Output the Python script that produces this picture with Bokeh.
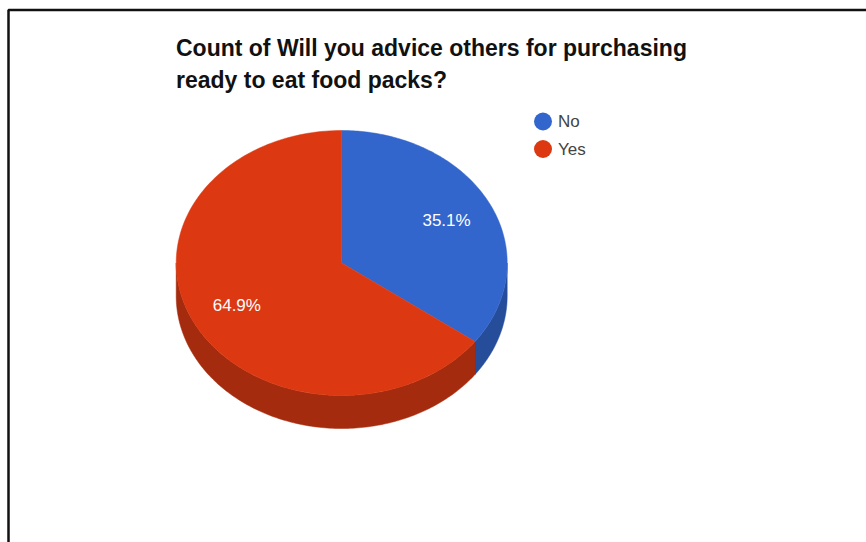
import numpy as np
from bokeh.core.properties import value
from bokeh.embed import file_html
from bokeh.models import Range1d
from bokeh.plotting import figure
from bokeh.resources import INLINE

# Survey answers, in percent of responses
categories = ["No", "Yes"]
shares = [35.1, 64.9]
labels = ["35.1%", "64.9%"]
title_lines = ["Count of Will you advice others for purchasing", "ready to eat food packs?"]

top_colors = ["#3366cc", "#dc3912"]
side_colors = ["#264d99", "#a52b0e"]

W, H = 866, 542
CX, CY, RX, RY, DEPTH = 341.2, 262.5, 165.5, 132.5, 33

p = figure(width=W, height=H, output_backend="svg", toolbar_location=None,
           x_range=Range1d(0, W), y_range=Range1d(H, 0), min_border=0,
           outline_line_color=None, background_fill_color="white")
p.axis.visible = False
p.grid.visible = False


def rim(a0, a1, n=160):
    # Points on the pie's elliptical rim; angles run clockwise from twelve o'clock
    t = np.linspace(a0, a1, n)
    return CX + RX * np.sin(t), CY - RY * np.cos(t)


edges = np.concatenate([[0.0], np.cumsum(shares)]) / sum(shares) * 2 * np.pi

# Extruded side: only the front half of the rim (pi/2 to 3*pi/2) shows
for a0, a1, color in zip(edges[:-1], edges[1:], side_colors):
    lo, hi = max(a0, np.pi / 2), min(a1, 3 * np.pi / 2)
    if lo < hi:
        x, y = rim(lo, hi)
        p.patch(np.concatenate([x, x[::-1]]), np.concatenate([y, y[::-1] + DEPTH]),
                fill_color=color, line_color=color, line_width=0.5)

# Top face of the pie
for a0, a1, color in zip(edges[:-1], edges[1:], top_colors):
    x, y = rim(a0, a1)
    p.patch(np.concatenate([[CX], x]), np.concatenate([[CY], y]),
            fill_color=color, line_color=color, line_width=0.5)

# Percentage labels inside each slice
mids = (edges[:-1] + edges[1:]) / 2
p.text(CX + 0.71 * RX * np.sin(mids), CY - 0.71 * RY * np.cos(mids), text=labels,
       text_color="white", text_font=value("Liberation Sans"), text_font_size="17px",
       text_align="center", text_baseline="middle")

# Legend
legend_y = [121, 148.5]
p.scatter([542.5] * 2, legend_y, size=18, marker="circle",
          fill_color=top_colors, line_color=None)
p.text([557.5] * 2, legend_y, text=categories, text_color="#444444",
       text_font=value("Liberation Sans"), text_font_size="17px",
       text_align="left", text_baseline="middle")

# Two-line heading
p.text([175.5] * 2, [47, 79], text=title_lines, text_color="#111111",
       text_font=value("Liberation Sans"), text_font_style="bold", text_font_size="23px",
       text_align="left", text_baseline="middle")

# Frame along the top and left edges
p.line([8, 8, W], [H, 9.5, 9.5], line_color="#111111", line_width=2.5)

open("out.html", "w").write(file_html(p, INLINE))
